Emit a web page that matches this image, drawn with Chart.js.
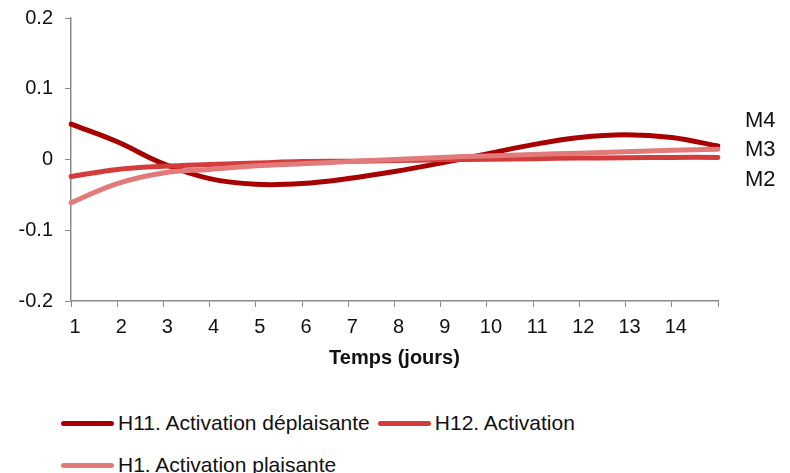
<!DOCTYPE html>
<html>
<head>
<meta charset="utf-8">
<script src="https://cdn.jsdelivr.net/npm/chart.js@4.4.0/dist/chart.umd.min.js"></script>
<style>
  body { margin: 0; background: #fff; }
  #wrap { position: relative; width: 790px; height: 473px; }
  #grafico { position: absolute; left: 0; top: 0; width: 790px; height: 400px; }
  #leyenda { position: absolute; left: 61px; top: 402px; width: 560px; display: flex; flex-wrap: wrap;
    font-family: "Liberation Sans", Arial, sans-serif; font-size: 21px; color: #111; }
  #leyenda .item { display: flex; align-items: center; height: 42px; margin-right: 8px; }
  #leyenda .linea { width: 53px; height: 5px; border-radius: 3px; margin-right: 4px; }
</style>
</head>
<body>
<div id="wrap">
  <div id="grafico"><canvas id="myChart"></canvas></div>
  <div id="leyenda"></div>
</div>
<script>
const dias = ['1','2','3','4','5','6','7','8','9','10','11','12','13','14','']

const h11 = [0.050, 0.025, -0.006, -0.027, -0.035, -0.034, -0.027, -0.017, -0.005, 0.008, 0.021, 0.031, 0.035, 0.031, 0.019]
const h12 = [-0.024, -0.014, -0.0095, -0.007, -0.005, -0.003, -0.0024, -0.0015, -0.0005, 0.0005, 0.0012, 0.002, 0.0025, 0.003, 0.003]
const h1 = [-0.061, -0.034, -0.019, -0.014, -0.009, -0.006, -0.003, 0.000, 0.003, 0.005, 0.007, 0.009, 0.011, 0.013, 0.0145]

const nombres = ['H11. Activation déplaisante', 'H12. Activation', 'H1. Activation plaisante']
const colores = ['#a80000', '#d43b3b', '#e27a7a']

const etiquetasM = ['M4', 'M3', 'M2']
const valoresM = [0.055, 0.013, -0.029]

const ejeGris = '#8a8a8a'
const fuente = '"Liberation Sans", Arial, sans-serif'

// etiquetas M4 / M3 / M2 a la derecha del grafico
const etiquetasDerecha = {
  id: 'etiquetasDerecha',
  afterDraw(chart) {
    const ctx = chart.ctx
    const y = chart.scales.y
    ctx.save()
    ctx.font = '22px ' + fuente
    ctx.fillStyle = '#111'
    ctx.textBaseline = 'middle'
    etiquetasM.forEach((txt, i) => {
      ctx.fillText(txt, chart.chartArea.right + 27, y.getPixelForValue(valoresM[i]))
    })
    ctx.restore()
  }
}

const ctx = document.getElementById('myChart').getContext('2d')

const grafico = new Chart(ctx, {
  type: 'line',
  data: {
    labels: dias,
    datasets: [
      { label: nombres[0], data: h11, borderColor: colores[0], backgroundColor: colores[0], order: 2 },
      { label: nombres[1], data: h12, borderColor: colores[1], backgroundColor: colores[1], order: 1 },
      { label: nombres[2], data: h1, borderColor: colores[2], backgroundColor: colores[2], order: 0 }
    ]
  },
  options: {
    responsive: true,
    maintainAspectRatio: false,
    animation: false,
    layout: { padding: { top: 18, right: 72, left: 0, bottom: 0 } },
    elements: {
      line: { borderWidth: 5, tension: 0.4, borderCapStyle: 'round' },
      point: { radius: 0, hoverRadius: 0 }
    },
    plugins: {
      legend: { display: false },
      tooltip: { enabled: false }
    },
    scales: {
      x: {
        offset: false,
        grid: { drawOnChartArea: false, tickLength: 6, color: ejeGris },
        border: { color: ejeGris, width: 1.5 },
        ticks: { color: '#111', font: { family: fuente, size: 20 }, padding: 8, labelOffset: 4, maxRotation: 0, autoSkip: false },
        title: { display: true, text: 'Temps (jours)', color: '#111', font: { family: fuente, size: 20, weight: 'bold' }, padding: { top: 0, bottom: 30 } },
        afterFit(scale) {
          scale.height = 99
          scale.paddingLeft = 0
          scale.paddingRight = 0
        }
      },
      y: {
        min: -0.2,
        max: 0.2,
        grid: { drawOnChartArea: false, tickLength: 6, color: ejeGris },
        border: { color: ejeGris, width: 1.5 },
        ticks: { stepSize: 0.1, color: '#111', font: { family: fuente, size: 20 }, padding: 12 },
        afterFit(scale) {
          scale.width = 71
          scale.paddingTop = 0
          scale.paddingBottom = 0
        }
      }
    }
  },
  plugins: [etiquetasDerecha]
})

// leyenda en html a partir de los datasets
const leyenda = document.querySelector('#leyenda')
grafico.data.datasets.forEach(ds => {
  leyenda.innerHTML += `<div class="item"><span class="linea" style="background:${ds.borderColor}"></span>${ds.label}</div>`
})
</script>
</body>
</html>
